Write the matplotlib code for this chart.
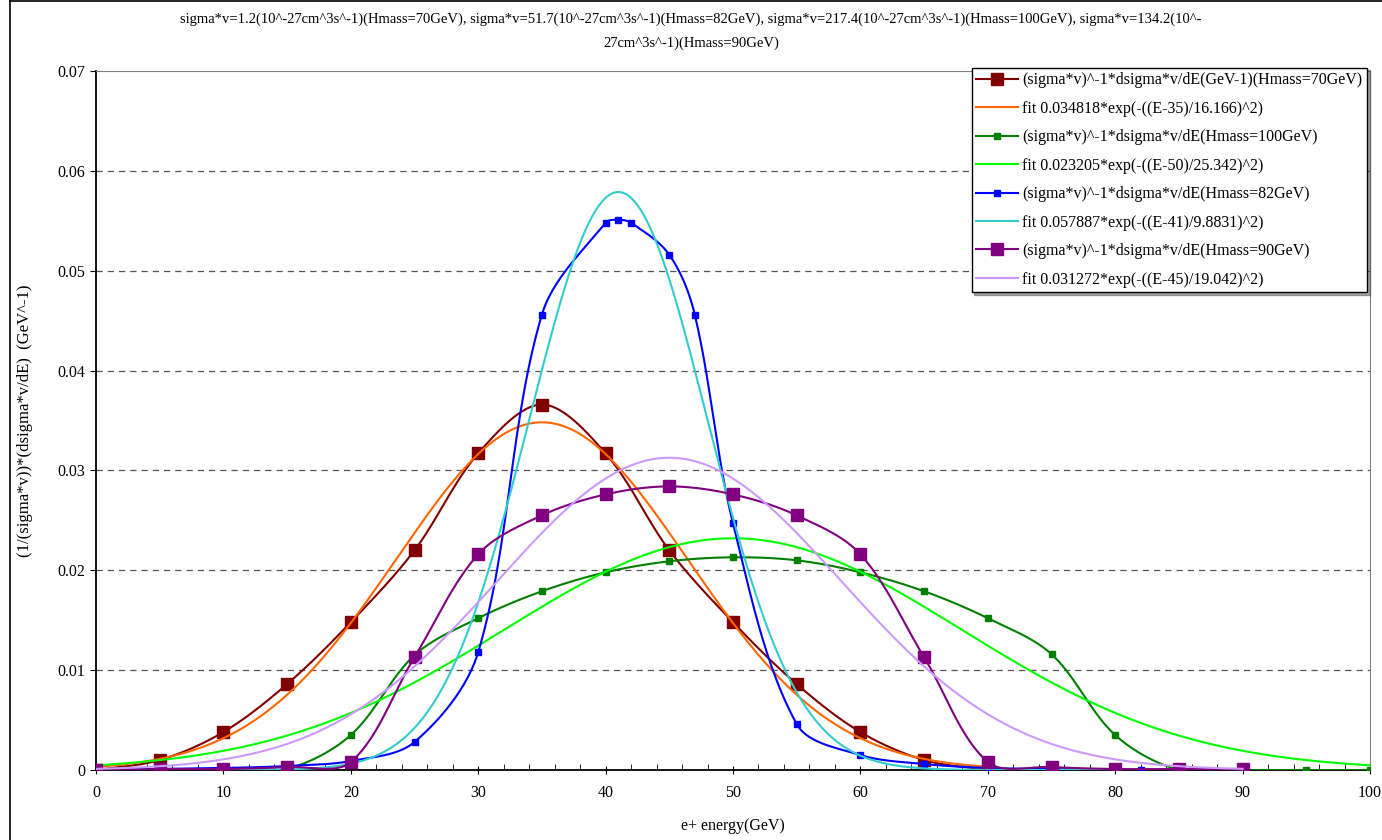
import numpy as np
import matplotlib.pyplot as plt
from matplotlib.lines import Line2D

# e+ energy spectra, (1/(sigma*v)) dsigma*v/dE
x70 = [0, 5, 10, 15, 20, 25, 30, 35, 40, 45, 50, 55, 60, 65, 70]
y70 = [0.0, 0.0010, 0.0038, 0.0086, 0.0148, 0.0220, 0.0317, 0.0366,
       0.0317, 0.0220, 0.0148, 0.0086, 0.0038, 0.0010, 0.0]

x100 = [0, 5, 10, 15, 20, 25, 30, 35, 40, 45, 50, 55, 60, 65, 70, 75,
        80, 85, 90, 95, 100]
y100 = [0.0, 0.0, 0.0, 0.0001, 0.0035, 0.0115, 0.0152, 0.0179, 0.0198,
        0.0209, 0.0213, 0.0210, 0.0198, 0.0179, 0.0152, 0.0116, 0.0035,
        0.0, 0.0, 0.0, 0.0]

x82 = [0, 5, 10, 15, 20, 25, 30, 35, 40, 41, 42, 45, 47, 50, 55, 60, 65,
       70, 75, 80, 82]
y82 = [0.0, 0.0001, 0.0002, 0.0004, 0.0009, 0.0028, 0.0118, 0.0456,
       0.0548, 0.0551, 0.0548, 0.0516, 0.0456, 0.0247, 0.0046, 0.0015,
       0.0006, 0.0002, 0.0001, 0.0, 0.0]

x90 = [0, 5, 10, 15, 20, 25, 30, 35, 40, 45, 50, 55, 60, 65, 70, 75, 80,
       85, 90]
y90 = [0.0, 0.0001, 0.0001, 0.0003, 0.0008, 0.0113, 0.0216, 0.0255,
       0.0276, 0.0284, 0.0276, 0.0255, 0.0216, 0.0113, 0.0008, 0.0003,
       0.0001, 0.0001, 0.0001]

# gaussian fits from the legend
fit_amp = [0.034818, 0.023205, 0.057887, 0.031272]
fit_mu = [35, 50, 41, 45]
fit_w = [16.166, 25.342, 9.8831, 19.042]
fit_end = [70, 100, 82, 90]

data_labels = ["(sigma*v)^-1*dsigma*v/dE(GeV-1)(Hmass=70GeV)",
               "(sigma*v)^-1*dsigma*v/dE(Hmass=100GeV)",
               "(sigma*v)^-1*dsigma*v/dE(Hmass=82GeV)",
               "(sigma*v)^-1*dsigma*v/dE(Hmass=90GeV)"]
fit_labels = ["fit 0.034818*exp(-((E-35)/16.166)^2)",
              "fit 0.023205*exp(-((E-50)/25.342)^2)",
              "fit 0.057887*exp(-((E-41)/9.8831)^2)",
              "fit 0.031272*exp(-((E-45)/19.042)^2)"]

title = ("sigma*v=1.2(10^-27cm^3s^-1)(Hmass=70GeV), sigma*v=51.7(10^-27cm^3s^-1)(Hmass=82GeV), "
         "sigma*v=217.4(10^-27cm^3s^-1)(Hmass=100GeV), sigma*v=134.2(10^-\n"
         "27cm^3s^-1)(Hmass=90GeV)")

# y units -> x units ratio on screen (so the smoothing works in pixel space)
YSCALE = 1000.0 / 0.07 * (699 / 1274) / 10.0


def smooth(xs, ys, n=30):
    """Excel-like smoothed line: bezier through the points, chord weighted."""
    p = np.column_stack([xs, np.asarray(ys) * YSCALE]).astype(float)
    m = len(p)
    L = np.linalg.norm(np.diff(p, axis=0), axis=1)
    tang = np.zeros_like(p)
    for i in range(m):
        a = p[max(i - 1, 0)]
        b = p[min(i + 1, m - 1)]
        la = L[i - 1] if i > 0 else 0.0
        lb = L[i] if i < m - 1 else 0.0
        tang[i] = (b - a) / max(la + lb, 1e-9)
    t = np.linspace(0, 1, n)[:, None]
    out = []
    for i in range(m - 1):
        p0, p3 = p[i], p[i + 1]
        c1 = p0 + tang[i] * L[i] / 3
        c2 = p3 - tang[i + 1] * L[i] / 3
        seg = ((1 - t) ** 3) * p0 + 3 * ((1 - t) ** 2) * t * c1 + \
            3 * (1 - t) * t ** 2 * c2 + t ** 3 * p3
        out.append(seg)
    out = np.vstack(out)
    return out[:, 0], out[:, 1] / YSCALE


plt.rcParams['font.family'] = ['Liberation Serif', 'DejaVu Serif']

fig = plt.figure(figsize=(13.82, 8.40), dpi=100)
ax = fig.add_axes([96 / 1382, 70 / 840, 1274 / 1382, 699 / 840])

data_colors = ["#800000", "#008000", "#0000FF", "#800080"]
fit_colors = ["#FF6600", "#00FF00", "#33CCCC", "#CC99FF"]
msizes = [9, 4, 4, 8]
series = [(x70, y70), (x100, y100), (x82, y82), (x90, y90)]

handles = []
for k in range(4):
    xs, ys = series[k]
    sx, sy = smooth(xs, ys)
    ax.plot(sx, sy, color=data_colors[k], lw=1.5, zorder=3 + 2 * k)
    ax.plot(xs, ys, ls="none", marker="s", ms=msizes[k],
            color=data_colors[k], zorder=3 + 2 * k)
    e = np.linspace(0, fit_end[k], 300)
    f = fit_amp[k] * np.exp(-((e - fit_mu[k]) / fit_w[k]) ** 2)
    ax.plot(e, f, color=fit_colors[k], lw=1.5, zorder=4 + 2 * k)
    handles.append(Line2D([], [], color=data_colors[k], lw=1.5, marker="s",
                          ms=msizes[k], label=data_labels[k]))
    handles.append(Line2D([], [], color=fit_colors[k], lw=1.5,
                          label=fit_labels[k]))

ax.set_xlim(0, 100)
ax.set_ylim(0, 0.07)
ax.set_xticks(np.arange(0, 101, 10))
ax.set_xticks(np.arange(0, 101, 2), minor=True)
ax.set_yticks(np.arange(0, 0.071, 0.01))
ax.set_yticklabels(["0", "0.01", "0.02", "0.03", "0.04", "0.05", "0.06", "0.07"])
ax.tick_params(axis="x", which="major", direction="inout", length=6,
               labelsize=11.5, pad=8)
ax.tick_params(axis="x", which="minor", direction="in", length=4)
ax.tick_params(axis="y", direction="out", length=4, labelsize=11.5, pad=4)

for yv in np.arange(0.01, 0.061, 0.01):
    ax.axhline(yv, color="#555555", lw=0.9, ls=(0, (5, 4)), zorder=1)

for s in ["top", "right"]:
    ax.spines[s].set_color("#808080")
for s in ["left", "bottom"]:
    ax.spines[s].set_color("black")
    ax.spines[s].set_linewidth(1.3)

ax.set_xlabel("e+ energy(GeV)", fontsize=11.5, labelpad=12)
ax.set_ylabel("(1/(sigma*v))*(dsigma*v/dE)  (GeV^-1)", fontsize=12,
              labelpad=17)
fig.text(0.5, 0.9625, title, ha="center", va="center", fontsize=10.5,
         linespacing=2.0)

leg = ax.legend(handles=handles, loc="upper right",
                bbox_to_anchor=(0.9975, 1.005), fontsize=11.5,
                frameon=True, fancybox=False, shadow=True,
                borderpad=0.3, labelspacing=0.78, handlelength=2.6,
                handletextpad=0.25, borderaxespad=0.0)
leg.get_frame().set_edgecolor("black")
leg.get_frame().set_linewidth(1.0)
leg.set_zorder(20)

# chart area border (left and top)
fig.add_artist(Line2D([10 / 1382, 10 / 1382], [0, 1 - 1 / 840],
                      color="black", lw=1.2, transform=fig.transFigure))
fig.add_artist(Line2D([10 / 1382, 1], [1 - 1 / 840, 1 - 1 / 840],
                      color="black", lw=1.2, transform=fig.transFigure))

fig.savefig("out.png", dpi=100)
